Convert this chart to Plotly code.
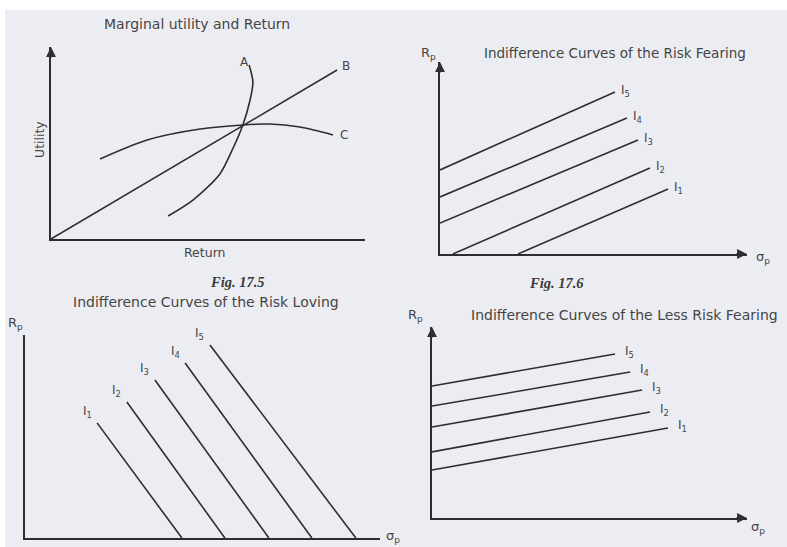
import plotly.graph_objects as go

# ---------------- data ----------------
# Fig 17.5 : Marginal utility and Return (abstract units 0-10)
ret_A = [3.73, 4.52, 5.38, 5.80, 6.11, 6.34, 6.43, 6.31]
util_A = [1.20, 2.03, 3.39, 4.74, 5.94, 7.24, 8.18, 9.06]
ret_B = [0.0, 9.11]
util_B = [0.0, 8.80]
ret_C = [1.56, 3.06, 4.75, 6.11, 6.97, 7.93, 8.98]
util_C = [4.17, 5.16, 5.73, 5.94, 5.99, 5.83, 5.42]
curve_names = ["A", "B", "C"]

ic_labels = ["I<sub>1</sub>", "I<sub>2</sub>", "I<sub>3</sub>", "I<sub>4</sub>", "I<sub>5</sub>"]

# Fig 17.6 : Risk fearing
fear_sigma_start = [2.54, 0.42, 0.0, 0.0, 0.0]
fear_r_start = [0.0, 0.0, 1.61, 2.97, 4.38]
fear_sigma_end = [7.43, 6.84, 6.45, 6.09, 5.70]
fear_r_end = [3.39, 4.48, 5.94, 7.08, 8.44]

# Risk loving
love_sigma_start = [2.03, 2.87, 3.66, 4.51, 5.21]
love_r_start = [5.67, 6.70, 7.78, 8.62, 9.51]
love_sigma_end = [4.42, 5.63, 6.87, 8.08, 9.32]
love_r_end = [0.0, 0.0, 0.0, 0.0, 0.0]

# Less risk fearing
less_sigma_start = [0.0, 0.0, 0.0, 0.0, 0.0]
less_r_start = [2.51, 3.46, 4.76, 5.86, 6.91]
less_sigma_end = [7.49, 6.92, 6.67, 6.29, 5.81]
less_r_end = [4.71, 5.55, 6.70, 7.64, 8.59]

# ---------------- layout helpers ----------------
W, H = 787, 547
BG = "#ecedf2"
LINE = "#2e2e2e"
TXT = "#454545"


def px(x):
    return x / W


def py(y):
    return 1 - y / H


panels = {
    1: dict(x0=51, x1=365, y0=239, y1=47),
    2: dict(x0=440, x1=747, y0=254, y1=62),
    3: dict(x0=25, x1=380, y0=538, y1=335),
    4: dict(x0=432, x1=747, y0=518, y1=327),
}

fig = go.Figure()
layout = dict(
    width=W, height=H, margin=dict(l=0, r=0, t=0, b=0),
    paper_bgcolor="white", plot_bgcolor="rgba(0,0,0,0)",
    showlegend=False,
)
for i, p in panels.items():
    sx = "" if i == 1 else str(i)
    layout["xaxis" + sx] = dict(
        domain=[px(p["x0"]), px(p["x1"])], range=[0, 10], anchor="y" + sx,
        showline=True, linecolor=LINE, linewidth=1.8, showgrid=False,
        zeroline=False, showticklabels=False, ticks="", fixedrange=True)
    layout["yaxis" + sx] = dict(
        domain=[py(p["y0"]), py(p["y1"])], range=[0, 10], anchor="x" + sx,
        showline=True, linecolor=LINE, linewidth=1.8, showgrid=False,
        zeroline=False, showticklabels=False, ticks="", fixedrange=True)
fig.update_layout(**layout)

# scanned page background
fig.add_shape(type="rect", xref="paper", yref="paper", x0=px(5), x1=1, y0=0, y1=py(10),
              fillcolor=BG, line_width=0, layer="below")

lw = 1.6

# ---- panel 1 ----
fig.add_trace(go.Scatter(x=ret_A, y=util_A, mode="lines",
                         line=dict(color=LINE, width=lw, shape="spline", smoothing=0.8),
                         xaxis="x", yaxis="y", hoverinfo="skip"))
fig.add_trace(go.Scatter(x=ret_B, y=util_B, mode="lines", line=dict(color=LINE, width=lw),
                         xaxis="x", yaxis="y", hoverinfo="skip"))
fig.add_trace(go.Scatter(x=ret_C, y=util_C, mode="lines",
                         line=dict(color=LINE, width=lw, shape="spline", smoothing=0.8),
                         xaxis="x", yaxis="y", hoverinfo="skip"))

ann = []
lab_font = dict(family="DejaVu Sans, Liberation Sans", size=12, color=TXT)
ann.append(dict(x=ret_A[-1], y=util_A[-1], xref="x", yref="y", text=curve_names[0], showarrow=False,
                xanchor="center", yanchor="middle", xshift=-5, yshift=3, font=lab_font))
ann.append(dict(x=ret_B[-1], y=util_B[-1], xref="x", yref="y", text=curve_names[1], showarrow=False,
                xanchor="left", yanchor="middle", xshift=3, yshift=4, font=lab_font))
ann.append(dict(x=ret_C[-1], y=util_C[-1], xref="x", yref="y", text=curve_names[2], showarrow=False,
                xanchor="left", yanchor="middle", xshift=5, yshift=0, font=lab_font))

# ---- panels 2-4: indifference curves ----
sets = [
    (2, fear_sigma_start, fear_r_start, fear_sigma_end, fear_r_end),
    (3, love_sigma_start, love_r_start, love_sigma_end, love_r_end),
    (4, less_sigma_start, less_r_start, less_sigma_end, less_r_end),
]
ic_font = dict(family="DejaVu Sans, Liberation Sans", size=12, color=TXT)
for (i, xs, ys, xe, ye) in sets:
    sx = str(i)
    for k in range(5):
        fig.add_trace(go.Scatter(x=[xs[k], xe[k]], y=[ys[k], ye[k]], mode="lines",
                                 line=dict(color=LINE, width=lw), xaxis="x" + sx, yaxis="y" + sx,
                                 hoverinfo="skip"))
        if i == 3:
            ann.append(dict(x=xs[k], y=ys[k], xref="x" + sx, yref="y" + sx, text=ic_labels[k],
                            showarrow=False, xanchor="center", yanchor="middle",
                            xshift=-10, yshift=11, font=ic_font))
        elif i == 2:
            ann.append(dict(x=xe[k], y=ye[k], xref="x" + sx, yref="y" + sx, text=ic_labels[k],
                            showarrow=False, xanchor="left", yanchor="middle",
                            xshift=4, yshift=1, font=ic_font))
        else:
            ann.append(dict(x=xe[k], y=ye[k], xref="x" + sx, yref="y" + sx, text=ic_labels[k],
                            showarrow=False, xanchor="left", yanchor="middle",
                            xshift=8, yshift=2, font=ic_font))

# ---- axis arrows ----
def arrow(xr, yr, x, y, ax, ay):
    ann.append(dict(x=x, y=y, xref=xr, yref=yr, ax=ax, ay=ay, axref="pixel", ayref="pixel",
                    text="", showarrow=True, arrowhead=2, arrowsize=1.1, arrowwidth=1.8,
                    arrowcolor=LINE, standoff=0))

arrow("x", "y", 0, 10, 0, 12)
arrow("x2", "y2", 0, 10, 0, 12)
arrow("x2", "y2", 10, 0, -12, 0)
arrow("x4", "y4", 0, 10, 0, 12)
arrow("x4", "y4", 10, 0, -12, 0)

# ---- titles & axis labels ----
tfont = dict(family="DejaVu Sans, Liberation Sans", size=13.5, color=TXT)
tfont_big = dict(family="DejaVu Sans, Liberation Sans", size=14, color=TXT)
def text(x, y, t, xanchor="center", font=tfont, angle=0):
    ann.append(dict(x=px(x), y=py(y), xref="paper", yref="paper", text=t, showarrow=False,
                    xanchor=xanchor, yanchor="middle", font=font, textangle=angle))

text(197, 24, "Marginal utility and Return", font=tfont_big)
text(615, 53, "Indifference Curves of the Risk Fearing")
text(206, 302, "Indifference Curves of the Risk Loving", font=tfont_big)
text(469, 315, "Indifference Curves of the Less Risk Fearing", xanchor="left", font=tfont_big)

lab2 = dict(family="DejaVu Sans, Liberation Sans", size=12.5, color=TXT)
text(39, 140, "Utility", angle=-90, font=lab2)
text(204, 252, "Return", font=lab2)
axfont = dict(family="DejaVu Sans, Liberation Sans", size=13, color=TXT)
text(428, 53, "R<sub>p</sub>", font=axfont)
text(763, 257, "σ<sub>p</sub>", font=axfont)
text(15, 323, "R<sub>p</sub>", font=axfont)
text(393, 536, "σ<sub>p</sub>", font=axfont)
text(415, 315, "R<sub>p</sub>", font=axfont)
text(758, 527, "σ<sub>p</sub>", font=axfont)

figfont = dict(family="Liberation Serif, Times New Roman", size=14.5, color="#3a3a3a")
text(237, 282, "<b><i>Fig. 17.5</i></b>", font=figfont)
text(556, 283, "<b><i>Fig. 17.6</i></b>", font=figfont)

fig.update_layout(annotations=ann)
fig.write_html("out.html", config={"displayModeBar": False},
               post_script="document.body.style.margin='0';document.body.style.overflow='hidden';")
